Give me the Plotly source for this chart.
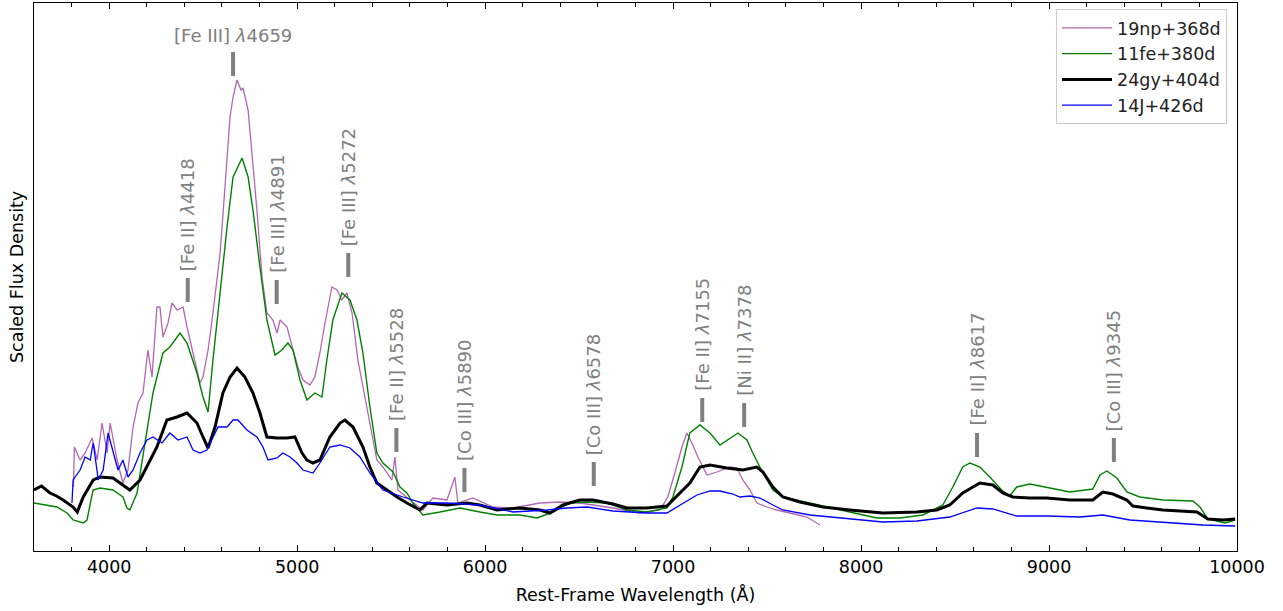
import plotly.graph_objects as go

# ---- Late-time nebular spectra (scaled flux density vs rest-frame wavelength) ----

# SN 2019np at +368 d
np19_wave = [3810, 3815, 3845, 3872, 3909, 3936, 3962, 3989, 4005, 4042, 4073, 4100, 4127, 4153,
             4180, 4206, 4228, 4254, 4270, 4286, 4313, 4334, 4361, 4393, 4414, 4440, 4467, 4483,
             4499, 4526, 4552, 4590, 4616, 4643, 4659, 4680, 4701, 4712, 4739, 4760, 4786, 4813,
             4839, 4871, 4893, 4909, 4946, 4978, 5004, 5031, 5068, 5094, 5121, 5148, 5185, 5212,
             5238, 5265, 5292, 5323, 5350, 5387, 5424, 5456, 5504, 5520, 5536, 5600, 5669, 5722,
             5797, 5839, 5855, 5935, 6041, 6148, 6291, 6398, 6504, 6680, 6823, 6930, 6972, 7009,
             7047, 7073, 7100, 7132, 7180, 7233, 7302, 7340, 7371, 7409, 7446, 7499, 7552, 7621,
             7712, 7781]
np19_flux = [0.64, 1.04, 0.91, 0.98, 1.13, 0.91, 1.28, 0.98, 1.28, 0.91, 0.68, 0.81, 1.24, 1.48,
             1.58, 2.01, 1.74, 2.44, 2.44, 2.14, 2.28, 2.48, 2.41, 2.44, 2.24, 2.04, 1.81, 1.68,
             1.74, 2.01, 2.38, 2.98, 3.64, 4.34, 4.54, 4.71, 4.61, 4.63, 4.41, 3.98, 3.41, 2.74,
             2.38, 2.31, 2.18, 2.31, 2.24, 2.01, 1.84, 1.71, 1.66, 1.74, 1.98, 2.28, 2.64, 2.61,
             2.51, 2.58, 2.38, 1.91, 1.64, 1.24, 0.91, 0.84, 0.71, 0.94, 0.61, 0.51, 0.41, 0.53,
             0.51, 0.74, 0.48, 0.53, 0.44, 0.43, 0.48, 0.49, 0.48, 0.43, 0.38, 0.41, 0.54, 0.78,
             1.04, 1.18, 1.08, 0.94, 0.76, 0.79, 0.84, 0.83, 0.71, 0.61, 0.48, 0.44, 0.41, 0.38,
             0.34, 0.26]

# SN 2011fe at +380 d
fe11_wave = [3600, 3722, 3776, 3808, 3862, 3882, 3914, 3951, 4020, 4073, 4095, 4110, 4148, 4190,
             4233, 4286, 4323, 4377, 4414, 4467, 4499, 4526, 4552, 4590, 4627, 4659, 4707, 4739,
             4765, 4802, 4839, 4882, 4919, 4951, 4978, 5015, 5052, 5094, 5132, 5158, 5190, 5238,
             5281, 5318, 5350, 5387, 5424, 5456, 5510, 5547, 5584, 5616, 5669, 5760, 5866, 5972,
             6063, 6185, 6276, 6361, 6451, 6542, 6648, 6755, 6861, 6967, 6999, 7047, 7089, 7143,
             7196, 7249, 7292, 7345, 7393, 7424, 7478, 7531, 7584, 7659, 7765, 7940, 8084, 8206,
             8329, 8435, 8488, 8541, 8579, 8632, 8685, 8748, 8791, 8828, 8898, 9004, 9111, 9233,
             9271, 9308, 9361, 9414, 9483, 9606, 9766, 9803, 9845, 9936, 9990]
fe11_flux = [0.48, 0.44, 0.38, 0.31, 0.28, 0.31, 0.61, 0.63, 0.61, 0.54, 0.43, 0.41, 0.58, 1.08,
             1.58, 1.98, 2.04, 2.18, 2.08, 1.78, 1.54, 1.39, 1.91, 2.58, 3.24, 3.74, 3.93, 3.74,
             3.41, 2.84, 2.31, 1.96, 2.01, 2.08, 2.01, 1.71, 1.51, 1.58, 1.54, 1.91, 2.31, 2.58,
             2.51, 2.31, 1.98, 1.44, 0.98, 0.88, 0.79, 0.64, 0.58, 0.48, 0.36, 0.39, 0.43, 0.39,
             0.36, 0.36, 0.33, 0.39, 0.48, 0.49, 0.48, 0.41, 0.39, 0.43, 0.54, 0.84, 1.18, 1.26,
             1.18, 1.06, 1.11, 1.18, 1.11, 0.98, 0.78, 0.61, 0.54, 0.51, 0.46, 0.39, 0.33, 0.33,
             0.36, 0.46, 0.64, 0.84, 0.88, 0.84, 0.74, 0.61, 0.55, 0.64, 0.67, 0.63, 0.59, 0.62,
             0.76, 0.80, 0.73, 0.59, 0.54, 0.51, 0.50, 0.44, 0.32, 0.28, 0.31]

# SN 2024gy at +404 d
gy24_wave = [3600, 3640, 3685, 3720, 3755, 3808, 3830, 3862, 3915, 3951, 4020, 4073, 4110, 4164,
             4217, 4254, 4307, 4361, 4414, 4467, 4499, 4526, 4563, 4605, 4643, 4680, 4722, 4765,
             4802, 4839, 4893, 4946, 4988, 5026, 5052, 5084, 5121, 5174, 5228, 5254, 5297, 5350,
             5387, 5424, 5478, 5531, 5584, 5653, 5690, 5797, 5903, 5972, 6063, 6185, 6291, 6345,
             6414, 6504, 6574, 6680, 6755, 6861, 6967, 7036, 7089, 7143, 7196, 7286, 7371, 7446,
             7478, 7531, 7584, 7675, 7797, 7940, 8116, 8297, 8403, 8472, 8541, 8632, 8701, 8754,
             8807, 8898, 8988, 9111, 9233, 9286, 9340, 9414, 9446, 9520, 9606, 9787, 9845, 9925,
             9990]
gy24_flux = [0.61, 0.65, 0.58, 0.55, 0.51, 0.44, 0.39, 0.54, 0.71, 0.74, 0.73, 0.66, 0.61, 0.71,
             0.91, 1.04, 1.31, 1.34, 1.38, 1.28, 1.14, 1.03, 1.24, 1.58, 1.74, 1.83, 1.74, 1.58,
             1.38, 1.14, 1.13, 1.13, 1.14, 0.98, 0.91, 0.88, 0.91, 1.14, 1.28, 1.31, 1.24, 1.04,
             0.84, 0.68, 0.61, 0.54, 0.48, 0.41, 0.48, 0.46, 0.48, 0.46, 0.41, 0.43, 0.41, 0.38,
             0.46, 0.51, 0.51, 0.47, 0.43, 0.43, 0.45, 0.58, 0.68, 0.84, 0.86, 0.83, 0.81, 0.84,
             0.79, 0.64, 0.54, 0.49, 0.44, 0.41, 0.38, 0.39, 0.41, 0.46, 0.58, 0.68, 0.66, 0.58,
             0.54, 0.53, 0.53, 0.51, 0.51, 0.59, 0.57, 0.51, 0.45, 0.43, 0.41, 0.39, 0.32, 0.31,
             0.32]

# SN 2014J at +426 d
j14_wave = [3802, 3808, 3845, 3872, 3899, 3915, 3942, 3968, 3994, 4020, 4047, 4073, 4100, 4127,
            4164, 4201, 4233, 4281, 4323, 4366, 4414, 4446, 4483, 4520, 4547, 4579, 4627, 4659,
            4685, 4733, 4786, 4818, 4845, 4893, 4924, 4962, 4999, 5031, 5084, 5121, 5174, 5228,
            5281, 5334, 5387, 5456, 5563, 5669, 5797, 5972, 6148, 6329, 6435, 6542, 6680, 6861,
            6967, 7052, 7127, 7196, 7249, 7318, 7355, 7409, 7462, 7531, 7584, 7728, 7940, 8116,
            8297, 8472, 8616, 8701, 8828, 8988, 9164, 9286, 9430, 9606, 9819, 9990]
j14_flux = [0.48, 0.71, 0.81, 0.94, 0.91, 1.08, 0.71, 0.81, 1.18, 1.01, 0.81, 0.91, 0.74, 0.81,
            0.98, 1.11, 1.14, 1.08, 1.18, 1.11, 1.14, 1.01, 0.98, 1.01, 1.11, 1.24, 1.24, 1.31,
            1.31, 1.21, 1.14, 1.04, 0.91, 0.93, 0.98, 0.94, 0.88, 0.81, 0.78, 0.88, 1.04, 1.06,
            1.03, 0.94, 0.78, 0.61, 0.54, 0.48, 0.48, 0.46, 0.39, 0.41, 0.43, 0.44, 0.40, 0.38,
            0.38, 0.48, 0.56, 0.60, 0.60, 0.57, 0.54, 0.55, 0.53, 0.46, 0.41, 0.36, 0.32, 0.29,
            0.30, 0.34, 0.43, 0.42, 0.35, 0.35, 0.34, 0.36, 0.31, 0.29, 0.26, 0.25]

# Nebular line identifications
line_ions = ["[Fe II]", "[Fe III]", "[Fe III]", "[Fe III]", "[Fe II]", "[Co III]",
             "[Co III]", "[Fe II]", "[Ni II]", "[Fe II]", "[Co III]"]
line_waves = [4418, 4659, 4891, 5272, 5528, 5890, 6578, 7155, 7378, 8617, 9345]

# marker placement (flux units): top of each vertical marker and its length
marker_top = [2.73, 4.99, 2.71, 2.98, 1.23, 0.83, 0.89, 1.53, 1.48, 1.18, 1.13]
marker_len = 0.24

FONT = "DejaVu Sans"
GRAY = "#808080"
FS = 17.5

fig = go.Figure()

series = [
    ("19np+368d", np19_wave, np19_flux, "#b366b3", 1.3),
    ("11fe+380d", fe11_wave, fe11_flux, "#008000", 1.4),
    ("24gy+404d", gy24_wave, gy24_flux, "#000000", 3.0),
    ("14J+426d", j14_wave, j14_flux, "#0000ff", 1.3),
]
for name, w, f, c, lw in series:
    fig.add_trace(go.Scatter(x=w, y=f, mode="lines", name=name,
                             line=dict(color=c, width=lw)))

for ion, wl, top in zip(line_ions, line_waves, marker_top):
    fig.add_shape(type="line", xref="x", yref="y", x0=wl, x1=wl,
                  y0=top - marker_len, y1=top,
                  line=dict(color=GRAY, width=4))
    label = f"{ion} <i>λ</i>{wl}"
    if wl == 4659:
        fig.add_annotation(x=wl, y=top, xref="x", yref="y", text=label,
                           showarrow=False, xanchor="center", yanchor="bottom",
                           yshift=4, font=dict(family=FONT, size=18, color=GRAY))
    else:
        fig.add_annotation(x=wl, y=top, xref="x", yref="y", text=label,
                           showarrow=False, textangle=-90,
                           xanchor="center", yanchor="bottom", yshift=5,
                           font=dict(family=FONT, size=18, color=GRAY))

fig.add_annotation(xref="paper", yref="paper", x=0, y=0.5, xshift=-17,
                   text="Scaled Flux Density", textangle=-90, showarrow=False,
                   xanchor="center", yanchor="middle",
                   font=dict(family=FONT, size=FS, color="black"))

fig.update_xaxes(range=[3600, 10000], tick0=4000, dtick=1000, tickformat="d",
                 ticks="inside", ticklen=6, tickwidth=1.2, tickcolor="black",
                 minor=dict(dtick=200, ticks="inside", ticklen=3.5, tickwidth=1,
                            tickcolor="black"),
                 showline=True, linecolor="black", linewidth=1.2, mirror="ticks",
                 showgrid=False, zeroline=False,
                 tickfont=dict(family=FONT, size=FS, color="black"),
                 title=dict(text="Rest-Frame Wavelength (Å)", standoff=12,
                            font=dict(family=FONT, size=FS, color="black")))
fig.update_yaxes(range=[0, 5.48], showticklabels=False, ticks="",
                 showline=True, linecolor="black", linewidth=1.2, mirror=True,
                 showgrid=False, zeroline=False)

fig.update_layout(
    width=1283, height=611,
    margin=dict(l=34, r=46, t=3, b=60),
    plot_bgcolor="white", paper_bgcolor="white",
    showlegend=True,
    legend=dict(x=0.9917, y=0.989, xanchor="right", yanchor="top",
                bgcolor="white", bordercolor="#cccccc", borderwidth=1,
                itemwidth=50,
                font=dict(family=FONT, size=FS, color="#222222")),
    font=dict(family=FONT),
)

fig.write_html("out.html")
